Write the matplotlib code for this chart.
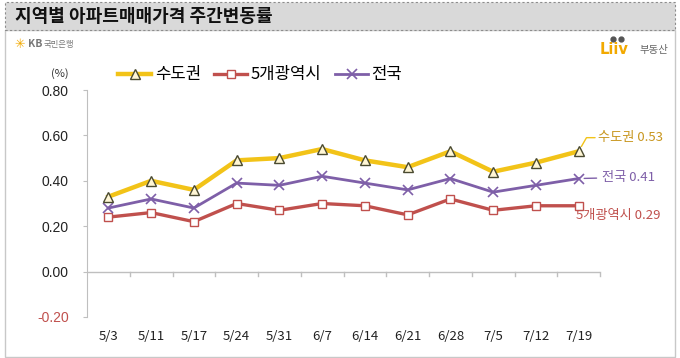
import numpy as np
import matplotlib
matplotlib.use("Agg")
import matplotlib.pyplot as plt
from matplotlib.patches import Rectangle
from matplotlib.lines import Line2D

plt.rcParams["font.family"] = ["Noto Sans CJK KR", "DejaVu Sans"]

weeks = ["5/3", "5/11", "5/17", "5/24", "5/31", "6/7", "6/14", "6/21",
         "6/28", "7/5", "7/12", "7/19"]
capital = [0.33, 0.40, 0.36, 0.49, 0.50, 0.54, 0.49, 0.46, 0.53, 0.44, 0.48, 0.53]
metro5 = [0.24, 0.26, 0.22, 0.30, 0.27, 0.30, 0.29, 0.25, 0.32, 0.27, 0.29, 0.29]
nation = [0.28, 0.32, 0.28, 0.39, 0.38, 0.42, 0.39, 0.36, 0.41, 0.35, 0.38, 0.41]
yticks = [-0.20, 0.00, 0.20, 0.40, 0.60, 0.80]

c_cap, c_met, c_nat = "#F2C318", "#C0504D", "#7E5FA8"

W, H = 680, 358
fig = plt.figure(figsize=(W / 100, H / 100), dpi=100)

# frame + title band (pixel coords)
def px(x, y):
    return x / W, 1 - y / H

fig.patches.append(Rectangle(px(5, 357), 670 / W, 327 / H, transform=fig.transFigure,
                             fill=False, ec="#C8C8C8", lw=1.0))
fig.patches.append(Rectangle(px(5, 30), 670 / W, 28 / H, transform=fig.transFigure,
                             fc="#D9D9D9", ec="#8C8C8C", lw=0.8, ls=(0, (2, 2))))
fig.text(*px(15, 16), "지역별 아파트매매가격 주간변동률", fontsize=13,
         fontweight="bold", va="center", ha="left", color="#111111")

# KB logo
fig.text(*px(14, 44), "✳", color="#F2A900", fontsize=9, va="center",
         family=["DejaVu Sans"])
fig.text(*px(28, 44), "KB", color="#777777", fontsize=7.5, va="center", fontweight="bold")
fig.text(*px(44, 44), "국민은행", color="#777777", fontsize=6, va="center")

# Liiv logo
fig.text(*px(600, 50), "Liiv", color="#F2A900", fontsize=10.5, va="center",
         fontweight="bold", family=["DejaVu Sans"])
fig.text(*px(640, 50), "부동산", color="#666666", fontsize=7.5, va="center")
fig.lines.append(Line2D([613 / W, 621 / W], [1 - 39 / H, 1 - 39 / H], transform=fig.transFigure,
                        ls="none", marker="o", ms=3.5, color="#555555"))

ax = fig.add_axes([87 / W, 1 - 317 / H, 513 / W, 227 / H])
x = np.arange(len(weeks))

ax.plot(x, capital, color=c_cap, lw=3.2, marker="^", ms=6.5, mfc="#FFF6D5",
        mec="#4A4A30", mew=1.0, label="수도권", zorder=4)
ax.plot(x, metro5, color=c_met, lw=2.4, marker="s", ms=5.5, mfc="white",
        mec=c_met, mew=1.0, label="5개광역시", zorder=3)
ax.plot(x, nation, color=c_nat, lw=2.0, marker="x", ms=7, mec=c_nat,
        mew=1.2, label="전국", zorder=3)

ax.set_xlim(-0.5, len(weeks) - 0.5)
ax.set_ylim(-0.2, 0.8)
ax.set_yticks(yticks)
ax.set_yticklabels([f"{v:.2f}" for v in yticks], fontsize=10, color="#222222",
                   family=["Liberation Sans"])
ax.get_yticklabels()[0].set_color("#C0504D")
ax.tick_params(axis="y", length=3, color="#BFBFBF", pad=10)
ax.set_xticks([])
for s in ["top", "right", "bottom"]:
    ax.spines[s].set_visible(False)
ax.spines["left"].set_color("#BFBFBF")
ax.axhline(0, color="#BFBFBF", lw=1.0, zorder=1)
for b in np.arange(0.5, len(weeks), 1.0):
    ax.plot([b, b], [0, -0.018], color="#BFBFBF", lw=1.0, clip_on=False)

for i, w in enumerate(weeks):
    ax.text(i, -0.285, w, ha="center", va="center", fontsize=9.5, color="#222222")

fig.text(*px(60, 74), "(%)", fontsize=8, ha="center", va="center", color="#333333")

# end labels
ax.annotate("수도권 0.53", xy=(11, capital[-1]), xytext=(11.45, 0.59),
            color="#C8961E", fontsize=9.5, va="center", ha="left",
            arrowprops=dict(arrowstyle="-", color=c_cap, lw=1.0,
                            shrinkA=0, shrinkB=4, connectionstyle="angle,angleA=0,angleB=60"))
ax.annotate("전국 0.41", xy=(11, nation[-1]), xytext=(11.55, 0.415),
            color=c_nat, fontsize=9.5, va="center", ha="left",
            arrowprops=dict(arrowstyle="-", color=c_nat, lw=1.0, shrinkA=2, shrinkB=4))
ax.text(10.95, 0.245, "5개광역시 0.29", color=c_met, fontsize=9.5, va="center", ha="left")

fig.legend(loc="center left", bbox_to_anchor=(118 / W, 1 - 75 / H), ncol=3,
           frameon=False, fontsize=12, handlelength=2.0, handletextpad=0.2,
           columnspacing=0.8, borderaxespad=0, borderpad=0)

fig.savefig("out.png", dpi=100)
